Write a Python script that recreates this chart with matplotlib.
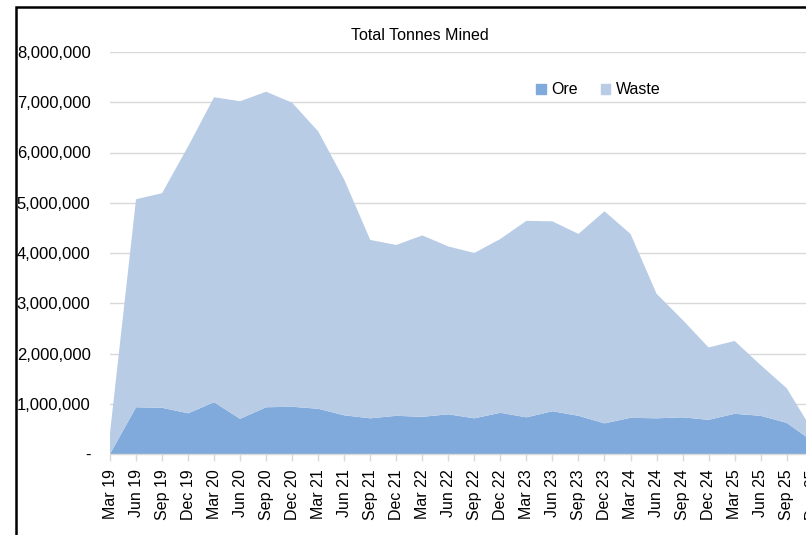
"""Total tonnes mined per quarter: ore + waste, stacked area (Excel-style)."""
import matplotlib
matplotlib.use("Agg")
import matplotlib.pyplot as plt
from matplotlib.patches import Rectangle, Patch
from matplotlib.ticker import FuncFormatter
import numpy as np

plt.rcParams["font.family"] = ["Liberation Sans", "DejaVu Sans"]

ORE_C = "#80aadb"
WASTE_C = "#b8cce6"
GRID_C = "#d9d9d9"

quarters = [
    "Mar 19", "Jun 19", "Sep 19", "Dec 19", "Mar 20", "Jun 20", "Sep 20",
    "Dec 20", "Mar 21", "Jun 21", "Sep 21", "Dec 21", "Mar 22", "Jun 22",
    "Sep 22", "Dec 22", "Mar 23", "Jun 23", "Sep 23", "Dec 23", "Mar 24",
    "Jun 24", "Sep 24", "Dec 24", "Mar 25", "Jun 25", "Sep 25", "Dec 25",
]
# tonnes
ore = [0, 930_000, 920_000, 810_000, 1_030_000, 700_000, 930_000,
       940_000, 900_000, 770_000, 710_000, 760_000, 740_000, 790_000,
       710_000, 820_000, 730_000, 850_000, 760_000, 610_000, 720_000,
       710_000, 730_000, 680_000, 800_000, 760_000, 620_000, 250_000]
total = [420_000, 5_070_000, 5_190_000, 6_120_000, 7_100_000, 7_020_000, 7_210_000,
         6_990_000, 6_420_000, 5_460_000, 4_260_000, 4_160_000, 4_350_000, 4_130_000,
         4_000_000, 4_280_000, 4_640_000, 4_630_000, 4_380_000, 4_830_000, 4_380_000,
         3_190_000, 2_670_000, 2_120_000, 2_250_000, 1_770_000, 1_310_000, 460_000]
waste = [t - o for t, o in zip(total, ore)]

W, H = 806, 535
fig = plt.figure(figsize=(W / 100, H / 100), dpi=100)

# plot area in pixel terms; right edge runs past the picture (chart is cropped)
x0, x_end, y_top, y_bot = 110, 812.7, 52, 454
ax = fig.add_axes([x0 / W, 1 - y_bot / H, (x_end - x0) / W, (y_bot - y_top) / H])

x = np.arange(len(quarters))
ax.stackplot(x, ore, waste, colors=[ORE_C, WASTE_C], labels=["Ore", "Waste"],
             linewidth=0, zorder=2)

ax.set_xlim(0, len(quarters) - 1)
ax.set_ylim(0, 8_000_000)
ax.set_yticks(np.arange(0, 8_000_001, 1_000_000))
ax.yaxis.set_major_formatter(FuncFormatter(lambda v, _: "-" if v == 0 else f"{v:,.0f}"))
ax.grid(axis="y", color=GRID_C, lw=1.0, zorder=1)
ax.set_axisbelow(True)

ax.set_xticks(x)
ax.set_xticklabels(quarters, rotation=90, fontsize=11.5)
ax.tick_params(axis="x", length=5, color=GRID_C, width=1.0, pad=6)
ax.tick_params(axis="y", length=0, pad=14, labelsize=12)

for side in ("left", "right", "top"):
    ax.spines[side].set_visible(False)
ax.spines["bottom"].set_color(GRID_C)
ax.spines["bottom"].set_linewidth(1.0)

fig.text(420 / W, 1 - 35 / H, "Total Tonnes Mined", ha="center", va="center", fontsize=11.5)

handles = [Patch(color=ORE_C, label="Ore"), Patch(color=WASTE_C, label="Waste")]
fig.legend(handles=handles, loc="center left", bbox_to_anchor=(522 / W, 1 - 90 / H),
           ncol=2, frameon=False, fontsize=11.5, handlelength=0.6, handleheight=0.6,
           handletextpad=0.35, columnspacing=1.4)

# chart border (black), cropped at right/bottom
fig.add_artist(Rectangle((16 / W, -0.1), 1.2, 1.1 - 7.5 / H, transform=fig.transFigure,
                         fill=False, edgecolor="black", lw=1.8))

fig.savefig("out.png", dpi=100)
